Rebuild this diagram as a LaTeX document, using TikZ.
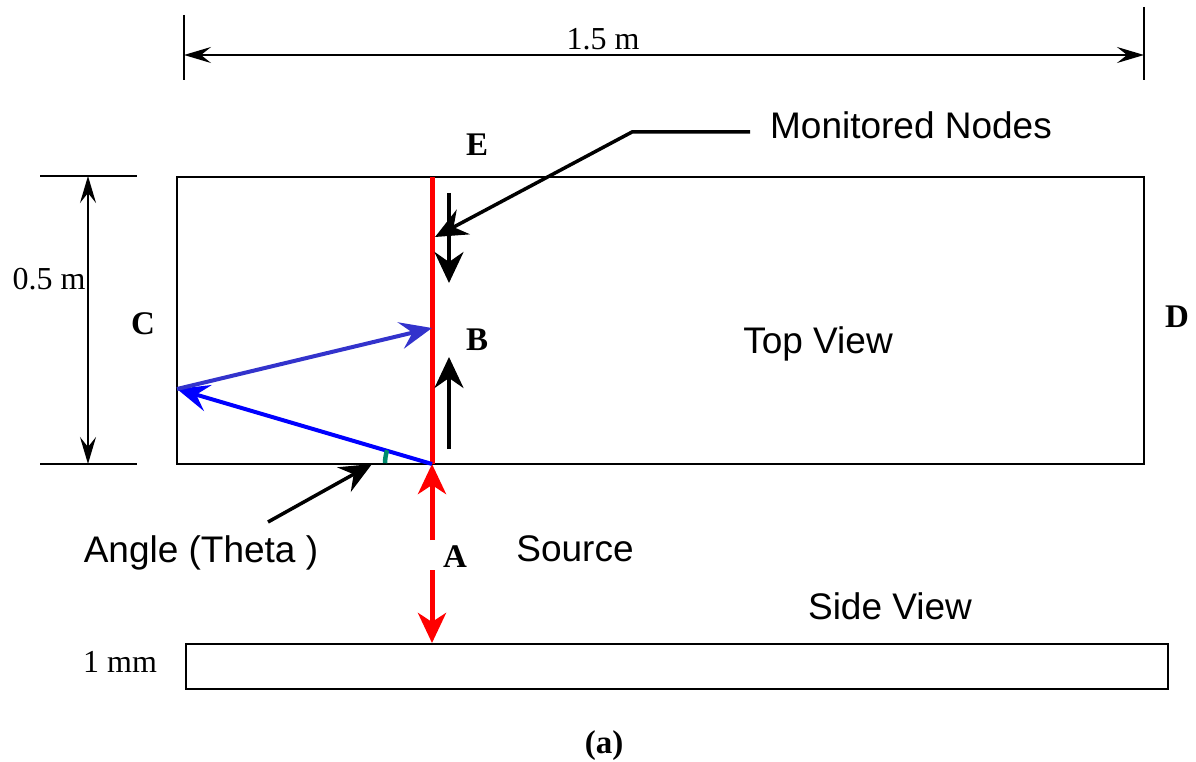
\documentclass[tikz,border=0pt]{standalone}
\usepackage{fontspec}
\setmainfont{Liberation Serif}
\newfontfamily\sansfam{Liberation Sans}
\usetikzlibrary{arrows.meta}
\definecolor{rayred}{RGB}{255,0,0}
\definecolor{rayblue}{RGB}{0,0,255}
\definecolor{raybluelt}{RGB}{51,51,204}
\definecolor{anglecol}{RGB}{0,140,110}
\tikzset{
  dimarrow/.style={line width=1.6pt,
    {Stealth[length=27pt,width=16pt,inset=10pt]}-{Stealth[length=27pt,width=16pt,inset=10pt]}},
  serlab/.style={anchor=base,font=\fontsize{32}{38}\selectfont},
  boldlab/.style={anchor=base,font=\fontsize{33}{38}\selectfont\bfseries},
  sanslab/.style={anchor=base,font=\fontsize{37}{44}\selectfont\sansfam},
  wave/.style={line width=4pt,-{Stealth[length=32pt,width=27pt,inset=12pt]}},
  flow/.style={line width=3.5pt,-{Stealth[length=31pt,width=29pt,inset=10pt]}},
  pointer/.style={line width=3.5pt,-{Stealth[length=32pt,width=28pt,inset=11pt]}}
}
\begin{document}
\begin{tikzpicture}[x=1pt,y=-1pt]
  \useasboundingbox (0,0) rectangle (1196,762);
  % plate, top and side
  \draw[line width=2pt] (177,177) rectangle (1144,464);
  \draw[line width=2pt] (186,644) rectangle (1168,689);
  % dimensions
  \draw[line width=2pt] (184,15) -- (184,80);
  \draw[line width=2pt] (1144,7) -- (1144,80);
  \coordinate (wl) at (184,55);
  \coordinate (wr) at (1144,55);
  \draw[dimarrow] (wl) -- (wr);
  \node[serlab] (wlab) at (603,50) {1.5 m};
  \draw[line width=2pt] (40,176) -- (137,176);
  \draw[line width=2pt] (40,464) -- (137,464);
  \coordinate (ht) at (88,176);
  \coordinate (hb) at (88,464);
  \draw[dimarrow] (ht) -- (hb);
  \node[serlab] (hlab) at (49,289) {0.5 m};
  \node[serlab] at (120,672) {1 mm};
  % points
  \node[boldlab] (C) at (143,334) {C};
  \node[boldlab] (D) at (1177,327) {D};
  \node[boldlab] (E) at (477,156) {E};
  \node[boldlab] (B) at (477,350) {B};
  \node[boldlab] (A) at (455,567) {A};
  \coordinate (top) at (432,177);
  \coordinate (src) at (432,464);
  \coordinate (bot) at (432,643);
  \coordinate (refl) at (177,389);
  \coordinate (hit) at (432,328);
  % source line
  \draw[rayred,line width=5pt] (src) -- (top);
  \draw[rayred,line width=5pt,-{Stealth[length=30pt,width=28pt,inset=9pt]}] (432,540) -- (src);
  \draw[rayred,line width=5pt,-{Stealth[length=30pt,width=28pt,inset=9pt]}] (432,570) -- (bot);
  % waves
  \draw[flow] (449,193) -- (449,283);
  \draw[flow] (449,449) -- (449,357);
  \draw[wave,rayblue] (src) -- (refl);
  \draw[wave,raybluelt] (refl) -- (hit);
  \draw[anglecol,line width=4.5pt] (src) ++(197:47) arc[start angle=197,end angle=181,radius=47];
  % labels
  \node[sanslab] (tv) at (818,353) {Top View};
  \node[sanslab] (sv) at (890,619) {Side View};
  \node[sanslab] (so) at (575,561) {Source};
  \node[sanslab] (mn) at (911,139) {Monitored Nodes};
  \node[sanslab] (th) at (201,562) {Angle (Theta )};
  \coordinate (mnk) at (632,132);
  \draw[pointer] (750,132) -- (mnk) -- (435,237);
  \draw[pointer] (268,522) -- (372,464);
  \node[boldlab] (cap) at (604,753) {(a)};
\end{tikzpicture}
\end{document}
